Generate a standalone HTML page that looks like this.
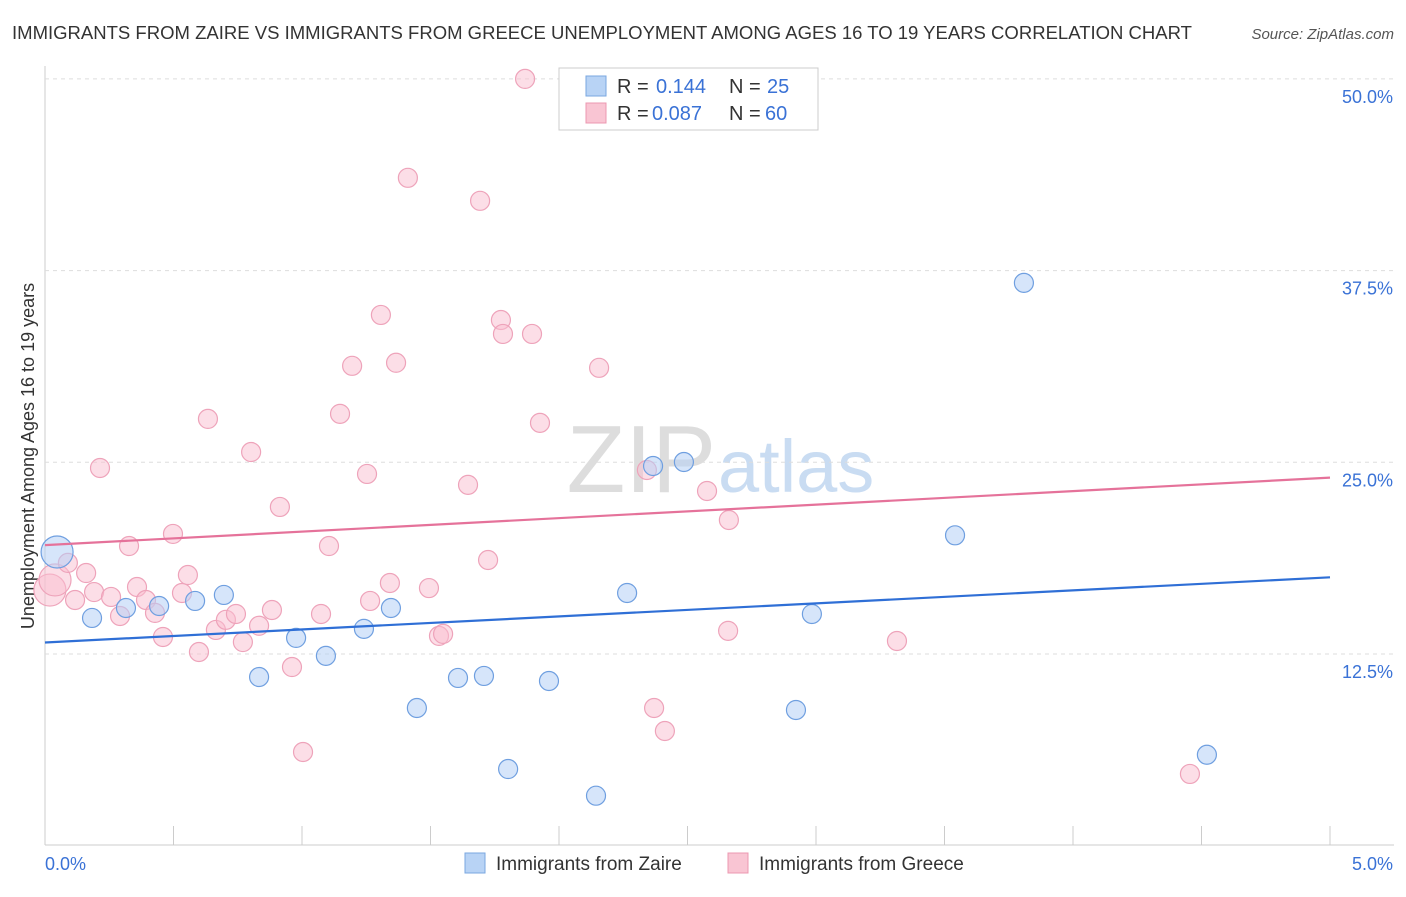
<!DOCTYPE html>
<html><head><meta charset="utf-8"><style>
body{margin:0;background:#fff;font-family:"Liberation Sans",sans-serif;}
svg text{font-family:"Liberation Sans",sans-serif;}
</style></head><body>
<svg id="c" width="1406" height="892" xmlns="http://www.w3.org/2000/svg">
<text x="12" y="39" font-size="18" fill="#333" textLength="1180" lengthAdjust="spacingAndGlyphs">IMMIGRANTS FROM ZAIRE VS IMMIGRANTS FROM GREECE UNEMPLOYMENT AMONG AGES 16 TO 19 YEARS CORRELATION CHART</text>
<text x="1394" y="39" font-size="15" fill="#555" font-style="italic" text-anchor="end">Source: ZipAtlas.com</text>
<text x="716" y="492" font-size="96" fill="#ddd" text-anchor="end" font-family="Liberation Serif">ZIP</text>
<text x="718" y="492" font-size="74" fill="#c9dcf2">atlas</text>
<text transform="translate(34,456) rotate(-90)" font-size="18" fill="#333" text-anchor="middle">Unemployment Among Ages 16 to 19 years</text>
<g id="grid"></g><g id="pts"></g><g id="lines"></g>
<g>
<rect x="559" y="68" width="259" height="62" fill="#fff" stroke="#ccc"/>
<rect x="586" y="76" width="20" height="20" fill="#b8d3f5" stroke="#7aa7e0"/>
<text x="617" y="93" font-size="20" fill="#333">R = </text><text x="656" y="93" font-size="20" fill="#3a72d6">0.144</text>
<text x="729" y="93" font-size="20" fill="#333">N = </text><text x="767" y="93" font-size="20" fill="#3a72d6">25</text>
<rect x="586" y="103" width="20" height="20" fill="#f9c5d3" stroke="#ec98b0"/>
<text x="617" y="120" font-size="20" fill="#333">R = </text><text x="652" y="120" font-size="20" fill="#3a72d6">0.087</text>
<text x="729" y="120" font-size="20" fill="#333">N = </text><text x="765" y="120" font-size="20" fill="#3a72d6">60</text>
</g>
<g>
<rect x="465" y="853" width="20" height="20" fill="#b8d3f5" stroke="#7aa7e0"/>
<text x="496" y="870" font-size="19" fill="#333">Immigrants from Zaire</text>
<rect x="728" y="853" width="20" height="20" fill="#f9c5d3" stroke="#ec98b0"/>
<text x="759" y="870" font-size="19" fill="#333">Immigrants from Greece</text>
</g>
</svg>
<script>
const yTicks=[12.5,25,37.5,50];
const yTickLabels=["12.5%","25.0%","37.5%","50.0%"];
const xTickLabels=["0.0%","5.0%"];
const zaireX=[0.047,0.183,0.315,0.444,0.584,0.696,0.833,0.977,1.093,1.241,1.346,1.447,1.607,1.708,1.802,1.961,2.144,2.265,2.366,2.486,2.922,2.984,3.541,3.809,4.521];
const zaireY=[19.15,14.85,15.5,15.63,15.96,16.35,11.0,13.55,12.38,14.14,15.5,8.98,10.94,11.07,5.0,10.74,3.26,16.48,24.76,25.02,8.85,15.11,20.24,36.7,5.93];
const greeceX=[0.019,0.039,0.089,0.117,0.16,0.191,0.214,0.257,0.292,0.327,0.358,0.393,0.428,0.459,0.498,0.533,0.556,0.599,0.634,0.665,0.704,0.743,0.77,0.802,0.833,0.883,0.914,0.961,1.004,1.074,1.105,1.148,1.195,1.253,1.265,1.307,1.342,1.366,1.412,1.494,1.533,1.549,1.646,1.693,1.724,1.774,1.782,1.868,1.895,1.926,2.156,2.342,2.37,2.412,2.576,2.661,2.658,3.315,4.455];
const greeceY=[16.67,17.33,18.44,16.02,17.78,16.54,24.63,16.22,14.98,19.54,16.87,16.02,15.18,13.61,20.33,16.48,17.65,12.63,27.83,14.07,14.73,15.11,13.28,25.67,14.34,15.37,22.09,11.65,6.11,15.11,19.54,28.16,31.29,24.24,15.96,34.61,17.13,31.49,43.55,16.8,13.68,13.81,23.53,42.05,18.63,34.28,33.37,50.0,33.37,27.57,31.16,24.5,8.98,7.48,23.13,21.24,14.01,13.35,4.68];
const zaireTrend=[13.25,17.5];
const greeceTrend=[19.6,24.0];
const X=v=>45+v/5*1285, Y=v=>845.7-v*15.336;
const NS="http://www.w3.org/2000/svg";
function mk(t,a,p){const e=document.createElementNS(NS,t);for(const k in a)e.setAttribute(k,a[k]);p.appendChild(e);return e;}
const g=document.getElementById('grid');
const ax=mk('line',{x1:45,y1:66,x2:45,y2:845,stroke:'#ccc'},g);

const bx=mk('line',{x1:45,y1:845,x2:1394,y2:845,stroke:'#ccc'},g);

yTicks.forEach((t,i)=>{
 const l=mk('line',{x1:45,y1:Y(t),x2:1394,y2:Y(t),stroke:'#ddd','stroke-dasharray':'4 4'},g);
 
 const tx=mk('text',{x:1393,y:Y(t)+24,'font-size':18,fill:'#3a72d6','text-anchor':'end'},g);
 tx.textContent=yTickLabels[i];
 
});
for(let i=0;i<=10;i++){const l=mk('line',{x1:X(i*0.5),y1:826,x2:X(i*0.5),y2:845,stroke:'#ccc'},g);
 }
xTickLabels.forEach((s,i)=>{const t=mk('text',{x:i?1393:45,y:870,'font-size':18,fill:'#3a72d6','text-anchor':i?'end':'start'},g);t.textContent=s;
 });
const p=document.getElementById('pts');
greeceX.forEach((x,i)=>{const r=i<2?16:9.5;
 const c=mk('circle',{cx:X(x),cy:Y(greeceY[i]),r:r,fill:'rgba(249,190,207,0.5)',stroke:'#eea3ba','stroke-width':1.2},p);
 });
zaireX.forEach((x,i)=>{const r=i==0?16:9.5;
 const c=mk('circle',{cx:X(x),cy:Y(zaireY[i]),r:r,fill:'rgba(180,208,245,0.55)',stroke:'#6f9fe0','stroke-width':1.2},p);
 });
const L=document.getElementById('lines');
const bl=mk('line',{x1:X(0),y1:Y(zaireTrend[0]),x2:X(5),y2:Y(zaireTrend[1]),stroke:'#2f6fd6','stroke-width':2.2},L);

const pl=mk('line',{x1:X(0),y1:Y(greeceTrend[0]),x2:X(5),y2:Y(greeceTrend[1]),stroke:'#e5729a','stroke-width':2.2},L);

</script>
</body></html>
